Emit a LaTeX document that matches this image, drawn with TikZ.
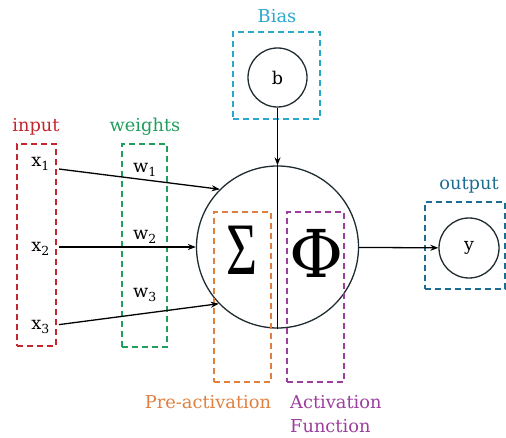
\documentclass[tikz,border=0pt]{standalone}
\usepackage{fontspec}
\setmainfont{DejaVu Serif}
\newfontfamily\sumfont{Liberation Serif}
\usetikzlibrary{positioning,arrows.meta}
\definecolor{inred}{HTML}{C3262C}
\definecolor{wgreen}{HTML}{1F9E5C}
\definecolor{biascyan}{HTML}{2AA8CC}
\definecolor{outblue}{HTML}{1C6C94}
\definecolor{preorange}{HTML}{E0803E}
\definecolor{actpurple}{HTML}{9C3E9C}
\definecolor{linedark}{HTML}{1E2B30}
\tikzset{
  unit/.style={circle, draw=linedark, line width=1.3pt, inner sep=0pt, font=\fontsize{17.5}{21}\selectfont},
  group/.style={rectangle, line width=1.5pt, dash pattern=on 6pt off 4pt, inner sep=0pt},
  tag/.style={anchor=base, inner sep=0pt, font=\fontsize{17.8}{21}\selectfont},
  symb/.style={inner sep=0pt, font=\fontsize{66}{66}\selectfont}
}

\begin{document}
\begin{tikzpicture}[
    x=1pt, y=-1pt,
    arrow/.style={-{Stealth[length=8pt, width=6pt]}, line width=1.3pt, draw=black}
  ]
  \useasboundingbox (0,0) rectangle (506,438);

  \node[unit, minimum size=162pt] (neuron) at (277.5,247) {};
  \node[unit, minimum size=59pt] (bias) at (277.5,77.5) {b};
  \node[unit, minimum size=60pt] (out) at (469,248) {y};

  \node[symb] (sum) at (242,250) {\sumfont\fontsize{74}{74}\selectfont\scalebox{0.72}[1]{Σ}};
  \node[symb] (act) at (317,253) {Φ};

  \node[tag, anchor=base east] (x1) at (50,167) {x\textsubscript{1}};
  \node[tag, anchor=base east] (x2) at (50,252) {x\textsubscript{2}};
  \node[tag, anchor=base east] (x3) at (50,330) {x\textsubscript{3}};
  \node[tag] (w1) at (145,173) {w\textsubscript{1}};
  \node[tag] (w2) at (145,240) {w\textsubscript{2}};
  \node[tag] (w3) at (145,298) {w\textsubscript{3}};

  \node[group, draw=inred, minimum width=39pt, minimum height=202pt] (inputbox) at (36.5,245) {};
  \node[group, draw=wgreen, minimum width=45pt, minimum height=203pt] (weightbox) at (144.5,245.5) {};
  \node[group, draw=biascyan, minimum width=87pt, minimum height=87pt] (biasbox) at (276.5,75.5) {};
  \node[group, draw=outblue, minimum width=80pt, minimum height=87pt] (outbox) at (465,245.5) {};
  \node[group, draw=preorange, minimum width=57pt, minimum height=170pt] (prebox) at (242.5,297) {};
  \node[group, draw=actpurple, minimum width=57pt, minimum height=170pt] (actbox) at (315.5,297) {};

  \node[tag, text=inred] (inputlabel) at (36,132) {input};
  \node[tag, text=wgreen] (weightlabel) at (145,132) {weights};
  \node[tag, text=biascyan] (biaslabel) at (277,23) {Bias};
  \node[tag, text=outblue] (outlabel) at (469,190) {output};
  \node[tag, text=preorange] (prelabel) at (208,408) {Pre-activation};
  \node[tag, text=actpurple, anchor=base west] (actlabel) at (290,408) {Activation};
  \node[tag, text=actpurple, anchor=base west] (funclabel) at (290,432) {Function};

  \draw[arrow] ([xshift=9pt, yshift=-5pt]x1.east) -- (neuron.135);
  \draw[arrow] ([xshift=9pt]x2.east |- neuron.west) -- (neuron.west);
  \draw[arrow] ([xshift=9pt, yshift=2.5pt]x3.east) -- (neuron.224);
  \draw[arrow] (bias) -- (neuron.north);
  \draw[line width=1.3pt] (neuron.north) -- (neuron.south);
  \draw[arrow] (neuron) -- (out);

\end{tikzpicture}
\end{document}
